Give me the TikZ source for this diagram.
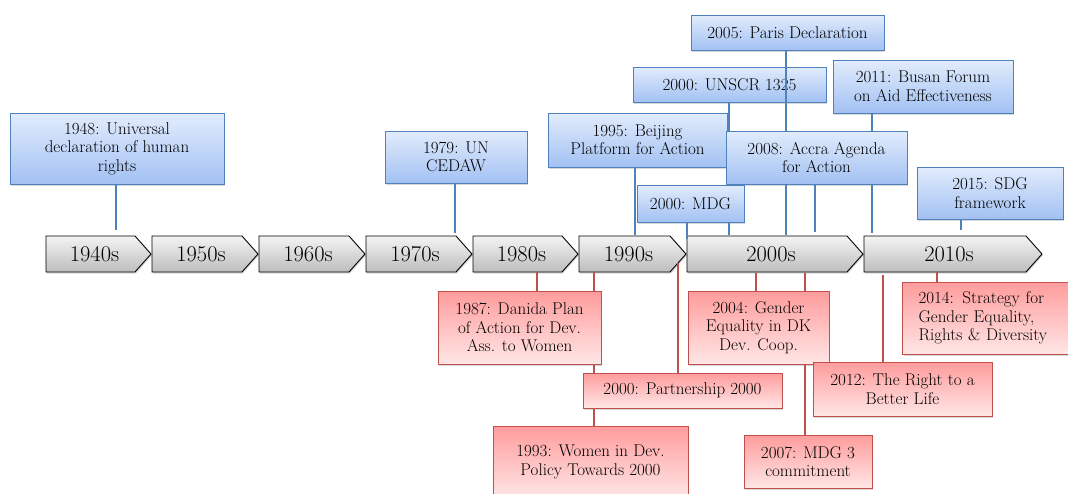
\documentclass[tikz,border=0pt]{standalone}
\usepackage{fontspec}
\usepackage{xcolor}
\usepackage{tikz}
\usetikzlibrary{shadows}

\definecolor{boxblue}{HTML}{4F81BD}
\definecolor{bluetop}{HTML}{E2ECFC}
\definecolor{bluebot}{HTML}{A2C1F3}
\definecolor{boxred}{HTML}{C0504D}
\definecolor{redtop}{HTML}{FF9C9C}
\definecolor{redbot}{HTML}{FFE6E6}
\definecolor{chevtop}{HTML}{F4F4F4}
\definecolor{chevbot}{HTML}{BDBDBD}

\begin{document}
\begin{tikzpicture}[
    x=1pt, y=-1pt,
    decade/.style={font=\fontsize{22.5}{26}\selectfont, inner sep=0pt},
    chev/.style={draw=black, line width=0.9pt, top color=chevtop,
        bottom color=chevbot,
        drop shadow={shadow xshift=1pt, shadow yshift=-1.5pt, opacity=0.3}},
    evblue/.style={draw=boxblue, line width=1pt, top color=bluetop,
        bottom color=bluebot, align=center, inner sep=0pt,
        font=\fontsize{17}{18.5}\selectfont,
        drop shadow={shadow xshift=1pt, shadow yshift=-1.5pt, opacity=0.3}},
    evred/.style={draw=boxred, line width=1pt, top color=redtop,
        bottom color=redbot, align=center, inner sep=0pt,
        font=\fontsize{17}{18.5}\selectfont,
        drop shadow={shadow xshift=1pt, shadow yshift=-1.5pt, opacity=0.3}},
    linkblue/.style={draw=boxblue, line width=1.2pt},
    linkred/.style={draw=boxred, line width=1.2pt}
]
    \useasboundingbox[fill=white] (0,0) rectangle (1068,493);

    % decades
    \foreach \n/\l/\r/\t in {d1940/46/151/1940s, d1950/152/258/1950s,
        d1960/259/365/1960s, d1970/366/472/1970s, d1980/473/578/1980s,
        d1990/579/686/1990s, d2000/687/863/2000s, d2010/864/1042/2010s}{
        \path[chev] (\l,236) -- ({\r-16},236) -- (\r,254) -- ({\r-16},272)
            -- (\l,272) -- cycle;
        \node[decade] (\n) at ({(\l+\r-8)/2},254) {\t};
    }

    % ends of the links at the decades
    \coordinate (t1948) at (116,230);
    \coordinate (t1979) at (455,233);
    \coordinate (t1995) at (635,235);
    \coordinate (t2000m) at (687,239);
    \coordinate (t2000u) at (729,235);
    \coordinate (t2005) at (786,235);
    \coordinate (t2008) at (815,232);
    \coordinate (t2011) at (872,233);
    \coordinate (t2015) at (961,230);
    \coordinate (s1987) at (537,272);
    \coordinate (s1993) at (594,272);
    \coordinate (s2000) at (678,263);
    \coordinate (s2004) at (756,273);
    \coordinate (s2007) at (805,273);
    \coordinate (s2012) at (883,275);
    \coordinate (s2014) at (937,272);

    % international events
    \node[evblue, minimum width=193pt, minimum height=35pt] (b2005)
        at (787.5,32.5) {2005: Paris Declaration};
    \node[evblue, minimum width=193pt, minimum height=35pt] (b2000u)
        at (729.5,84.5) {2000: UNSCR 1325};
    \node[evblue, minimum width=180pt, minimum height=53pt] (b2011)
        at (923,86.5) {2011: Busan Forum\\on Aid Effectiveness};
    \node[evblue, minimum width=214pt, minimum height=71pt] (b1948)
        at (117,148.5) {1948: Universal\\declaration of human\\rights};
    \node[evblue, minimum width=142pt, minimum height=52pt] (b1979)
        at (456,157) {1979: UN\\CEDAW};
    \node[evblue, minimum width=179pt, minimum height=54pt] (b1995)
        at (637.5,140) {1995: Beijing\\Platform for Action};

    \draw[linkblue] (t2000u |- b2000u.south) -- (t2000u);
    \draw[linkblue] (t2005 |- b2005.south) -- (t2005);
    \draw[linkblue] (t2011 |- b2011.south) -- (t2011);

    \node[evblue, minimum width=181pt, minimum height=53pt] (b2008)
        at (816.5,157.5) {2008: Accra Agenda\\for Action};
    \node[evblue, minimum width=107pt, minimum height=37pt] (b2000m)
        at (690.5,203.5) {2000: MDG};
    \node[evblue, minimum width=146pt, minimum height=52pt] (b2015)
        at (990,193) {2015: SDG\\framework};

    \draw[linkblue] (t1948 |- b1948.south) -- (t1948);
    \draw[linkblue] (t1979 |- b1979.south) -- (t1979);
    \draw[linkblue] (t1995 |- b1995.south) -- (t1995);
    \draw[linkblue] (t2000m |- b2000m.south) -- (t2000m);
    \draw[linkblue] (t2008 |- b2008.south) -- (t2008);
    \draw[linkblue] (t2015 |- b2015.south) -- (t2015);

    % danish policies
    \node[evred, minimum width=195pt, minimum height=72pt] (r1993)
        at (590.5,462) {1993: Women in Dev.\\Policy Towards 2000};
    \node[evred, minimum width=128pt, minimum height=53pt] (r2007)
        at (808,461.5) {2007: MDG 3\\commitment};

    \draw[linkred] (s1993) -- (s1993 |- r1993.north);
    \draw[linkred] (s2007) -- (s2007 |- r2007.north);

    \node[evred, minimum width=163pt, minimum height=73pt] (r1987)
        at (519.5,327.5) {1987: Danida Plan\\of Action for Dev.\\Ass. to Women};
    \node[evred, minimum width=199pt, minimum height=35pt] (r2000)
        at (682.5,390.5) {2000: Partnership 2000};
    \node[evred, minimum width=141pt, minimum height=73pt] (r2004)
        at (758.5,327.5) {2004: Gender\\Equality in DK\\Dev. Coop.};
    \node[evred, minimum width=179pt, minimum height=54pt] (r2012)
        at (902.5,389) {2012: The Right to a\\Better Life};
    \node[evred, anchor=west, text width=160pt, align=left, inner xsep=16pt,
        minimum height=72pt] (r2014)
        at (902,318) {2014: Strategy for\\Gender Equality,\\Rights \& Diversity};

    \draw[linkred] (s1987) -- (s1987 |- r1987.north);
    \draw[linkred] (s2000) -- (s2000 |- r2000.north);
    \draw[linkred] (s2004) -- (s2004 |- r2004.north);
    \draw[linkred] (s2012) -- (s2012 |- r2012.north);
    \draw[linkred] (s2014) -- (s2014 |- r2014.north);
\end{tikzpicture}
\end{document}
